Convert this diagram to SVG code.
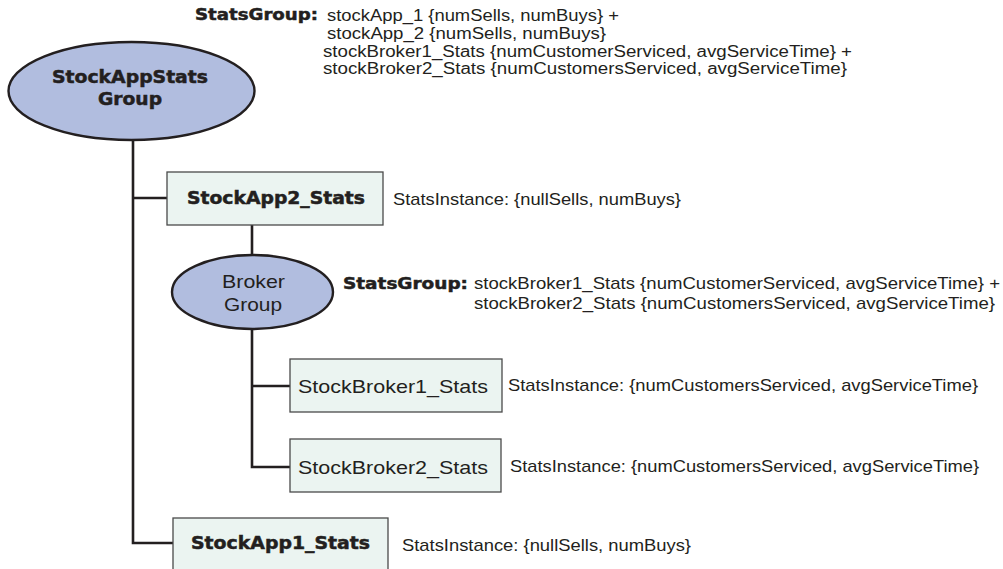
<svg xmlns="http://www.w3.org/2000/svg" width="1003" height="569" viewBox="0 0 1003 569">
<style>
.conn{fill:none;stroke:#231f20;stroke-width:2.6}
.ell{fill:#b1bddf;stroke:#231f20;stroke-width:2.4}
.box{fill:#ebf4f1;stroke:#4a4a4a;stroke-width:1.3}
.t{font-family:"Liberation Sans",Arial,sans-serif;font-size:17px;fill:#231f20}
.ts{font-family:"Liberation Sans",Arial,sans-serif;font-size:16px;fill:#231f20}
.lbl{font-family:"Liberation Sans",Arial,sans-serif;font-size:19px;fill:#231f20}
.b{font-family:"DejaVu Sans",sans-serif;font-weight:bold;font-size:16px;fill:#231f20;stroke:#231f20;stroke-width:0.5}
.bl{font-family:"DejaVu Sans",sans-serif;font-weight:bold;font-size:17px;fill:#231f20;stroke:#231f20;stroke-width:0.5}
</style>
<rect width="1003" height="569" fill="#ffffff"/>
<g id="connectors">
<path class="conn" d="M133,140 V543 H173"/>
<path class="conn" d="M133,198 H167"/>
<path class="conn" d="M252,225 V255"/>
<path class="conn" d="M252,329 V467 H290"/>
<path class="conn" d="M252,386 H290"/>
</g>
<g id="stockAppStatsGroup">
<ellipse class="ell" cx="131.5" cy="91" rx="123" ry="49"/>
<text class="bl" x="52" y="83" textLength="156" lengthAdjust="spacingAndGlyphs">StockAppStats</text>
<text class="bl" x="98" y="105" textLength="64" lengthAdjust="spacingAndGlyphs">Group</text>
</g>
<g id="topStatsGroupLabel">
<text class="b" x="195" y="20" textLength="123" lengthAdjust="spacingAndGlyphs">StatsGroup:</text>
<text class="ts" x="327" y="21" textLength="292" lengthAdjust="spacingAndGlyphs">stockApp_1 {numSells, numBuys} +</text>
<text class="ts" x="327" y="39" textLength="279" lengthAdjust="spacingAndGlyphs">stockApp_2 {numSells, numBuys}</text>
<text class="ts" x="323" y="57" textLength="529" lengthAdjust="spacingAndGlyphs">stockBroker1_Stats {numCustomerServiced, avgServiceTime} +</text>
<text class="ts" x="323" y="74" textLength="524" lengthAdjust="spacingAndGlyphs">stockBroker2_Stats {numCustomersServiced, avgServiceTime}</text>
</g>
<g id="stockApp2Stats">
<rect class="box" x="167" y="172" width="216" height="53"/>
<text class="bl" x="187" y="204" textLength="178" lengthAdjust="spacingAndGlyphs">StockApp2_Stats</text>
<text class="t" x="393" y="205" textLength="288" lengthAdjust="spacingAndGlyphs">StatsInstance: {nullSells, numBuys}</text>
</g>
<g id="brokerGroup">
<ellipse class="ell" cx="252.5" cy="292" rx="80.5" ry="37"/>
<text class="lbl" x="222" y="288" textLength="63" lengthAdjust="spacingAndGlyphs">Broker</text>
<text class="lbl" x="224" y="311" textLength="58" lengthAdjust="spacingAndGlyphs">Group</text>
<text class="b" x="343" y="289" textLength="125" lengthAdjust="spacingAndGlyphs">StatsGroup:</text>
<text class="t" x="474" y="289" textLength="526" lengthAdjust="spacingAndGlyphs">stockBroker1_Stats {numCustomerServiced, avgServiceTime} +</text>
<text class="t" x="474" y="309" textLength="521" lengthAdjust="spacingAndGlyphs">stockBroker2_Stats {numCustomersServiced, avgServiceTime}</text>
</g>
<g id="stockBroker1Stats">
<rect class="box" x="290" y="359" width="212" height="53"/>
<text class="lbl" x="298" y="393" textLength="190" lengthAdjust="spacingAndGlyphs">StockBroker1_Stats</text>
<text class="t" x="508" y="391" textLength="470" lengthAdjust="spacingAndGlyphs">StatsInstance: {numCustomersServiced, avgServiceTime}</text>
</g>
<g id="stockBroker2Stats">
<rect class="box" x="290" y="439" width="211" height="53"/>
<text class="lbl" x="298" y="474" textLength="190" lengthAdjust="spacingAndGlyphs">StockBroker2_Stats</text>
<text class="t" x="510" y="472" textLength="469" lengthAdjust="spacingAndGlyphs">StatsInstance: {numCustomersServiced, avgServiceTime}</text>
</g>
<g id="stockApp1Stats">
<rect class="box" x="173" y="518" width="215" height="60"/>
<text class="bl" x="191" y="549" textLength="179" lengthAdjust="spacingAndGlyphs">StockApp1_Stats</text>
<text class="t" x="402" y="551" textLength="289" lengthAdjust="spacingAndGlyphs">StatsInstance: {nullSells, numBuys}</text>
</g>
</svg>
